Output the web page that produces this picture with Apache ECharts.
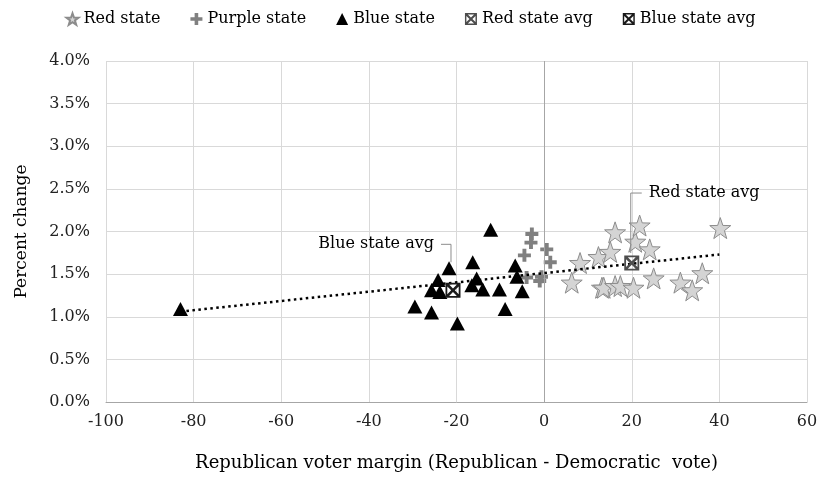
<!DOCTYPE html>
<html><head><meta charset="utf-8">
<script src="https://cdn.jsdelivr.net/npm/echarts@6/dist/echarts.min.js"></script>
<style>html,body{margin:0;padding:0;background:#fff}#c{width:821px;height:477px}</style>
</head><body><div id="c"></div>
<script>
// Data: [margin, percent change]
const redStates = [[6.3,1.40],[8.2,1.63],[12.4,1.70],[13.2,1.34],[13.6,1.34],[15.1,1.76],[16.2,1.99],[16.2,1.36],[17.4,1.36],[20.4,1.34],[20.8,1.88],[21.8,2.07],[24.1,1.79],[25.0,1.45],[31.1,1.40],[33.8,1.31],[36.1,1.51],[40.2,2.04]];
const purpleStates = [[-2.8,1.97],[-3.0,1.87],[-4.5,1.72],[0.6,1.79],[1.4,1.64],[-0.6,1.47],[-1.0,1.42],[-4.0,1.46]];
const blueStates = [[-83,1.09],[-29.5,1.12],[-25.7,1.05],[-25.7,1.31],[-24.2,1.43],[-23.8,1.29],[-21.7,1.57],[-19.8,0.92],[-16.3,1.64],[-12.2,2.02],[-15.4,1.45],[-16.5,1.37],[-14.0,1.32],[-10.2,1.32],[-8.9,1.09],[-6.6,1.60],[-6.2,1.47],[-5.0,1.30]];
const redAvg = [[20.0,1.63]];
const blueAvg = [[-20.8,1.31]];
const trendLine = [[-83,1.06],[40,1.73]];
const xTicks = {min:-100, max:60, interval:20};
const yTicks = {min:0, max:4, interval:0.5};

const serif = '"DejaVu Serif","Liberation Serif",serif';
const boxX = 'path://M0,0 H10 V10 H0 Z M1.2,1.2 V8.8 H8.8 V1.2 Z M1.2,1.2 L2.4,1.2 L5,3.8 L7.6,1.2 L8.8,1.2 L8.8,2.4 L6.2,5 L8.8,7.6 L8.8,8.8 L7.6,8.8 L5,6.2 L2.4,8.8 L1.2,8.8 L1.2,7.6 L3.8,5 L1.2,2.4 Z';
const plus = 'path://M3.5,0 H6.5 V3.5 H10 V6.5 H6.5 V10 H3.5 V6.5 H0 V3.5 H3.5 Z';
const star = 'path://M5,0 L6.18,3.38 L9.76,3.45 L6.9,5.62 L7.94,9.05 L5,7 L2.06,9.05 L3.1,5.62 L0.24,3.45 L3.82,3.38 Z';

const chart = echarts.init(document.getElementById('c'));
chart.setOption({
  animation:false,
  textStyle:{fontFamily:serif},
  grid:{left:106, right:14, top:61, bottom:75},
  legend:{
    top:6, left:'center', itemGap:30, itemWidth:12, itemHeight:12,
    textStyle:{fontFamily:serif, fontSize:16, color:'#000'},
    data:['Red state','Purple state','Blue state','Red state avg','Blue state avg']
  },
  xAxis:{
    type:'value', min:xTicks.min, max:xTicks.max, interval:xTicks.interval,
    name:'Republican voter margin (Republican - Democratic  vote)',
    nameLocation:'middle', nameGap:52,
    nameTextStyle:{fontFamily:serif, fontSize:18, color:'#000'},
    axisLine:{onZero:false, lineStyle:{color:'#a6a6a6'}},
    axisTick:{show:false},
    axisLabel:{fontFamily:serif, fontSize:16, color:'#222', margin:12},
    splitLine:{show:true, lineStyle:{color:'#d9d9d9', width:1}}
  },
  yAxis:{
    type:'value', min:yTicks.min, max:yTicks.max, interval:yTicks.interval,
    name:'Percent change', nameLocation:'middle', nameGap:76,
    nameTextStyle:{fontFamily:serif, fontSize:17, color:'#000'},
    axisLine:{show:false, onZero:false},
    axisTick:{show:false},
    axisLabel:{fontFamily:serif, fontSize:16, color:'#222', margin:16, formatter:v=>v.toFixed(1)+'%'},
    splitLine:{show:true, lineStyle:{color:'#d9d9d9', width:1}}
  },
  series:[
    {name:'zeroLine', type:'line', data:[], silent:true,
     markLine:{silent:true, symbol:'none', label:{show:false}, lineStyle:{color:'#a6a6a6', type:'solid', width:1}, data:[{xAxis:0}]}},
    {name:'Trend', type:'line', data:trendLine, showSymbol:false, symbol:'none', silent:true, z:5,
     lineStyle:{color:'#000', width:2.5, type:[2.5,3.5]}},
    {name:'Red state', type:'scatter', data:redStates, symbol:star, symbolSize:21,
     itemStyle:{color:'#d4d4d4', borderColor:'#8c8c8c', borderWidth:1, opacity:1}, z:3},
    {name:'Purple state', type:'scatter', data:purpleStates, symbol:plus, symbolSize:13,
     itemStyle:{color:'#808080', opacity:1}, z:3},
    {name:'Blue state', type:'scatter', data:blueStates, symbol:'triangle', symbolSize:[15,14],
     itemStyle:{color:'#000', opacity:1}, z:4},
    {name:'Red state avg', type:'scatter', data:redAvg, symbol:boxX, symbolSize:15,
     itemStyle:{color:'#4d4d4d', opacity:1}, z:6},
    {name:'Blue state avg', type:'scatter', data:blueAvg, symbol:boxX, symbolSize:15,
     itemStyle:{color:'#1a1a1a', opacity:1}, z:6}
  ]
});

function annotate(){
  const b = chart.convertToPixel({gridIndex:0}, blueAvg[0]);
  const r = chart.convertToPixel({gridIndex:0}, redAvg[0]);
  const ls = {stroke:'#8c8c8c', lineWidth:1, fill:null};
  chart.setOption({graphic:[
    {type:'text', x:b[0]-19, y:b[1]-46, style:{text:'Blue state avg', font:'16px '+serif, fill:'#000', align:'right', verticalAlign:'middle'}, z:10},
    {type:'polyline', shape:{points:[[b[0]-12,b[1]-46],[b[0]-2,b[1]-46],[b[0]-2,b[1]-28]]}, style:ls, z:10},
    {type:'text', x:r[0]+17, y:r[1]-70, style:{text:'Red state avg', font:'16px '+serif, fill:'#000', align:'left', verticalAlign:'middle'}, z:10},
    {type:'polyline', shape:{points:[[r[0]+10,r[1]-70],[r[0]-1,r[1]-70],[r[0]-1,r[1]-10]]}, style:ls, z:10}
  ]});
}
annotate();
</script>
</body></html>
